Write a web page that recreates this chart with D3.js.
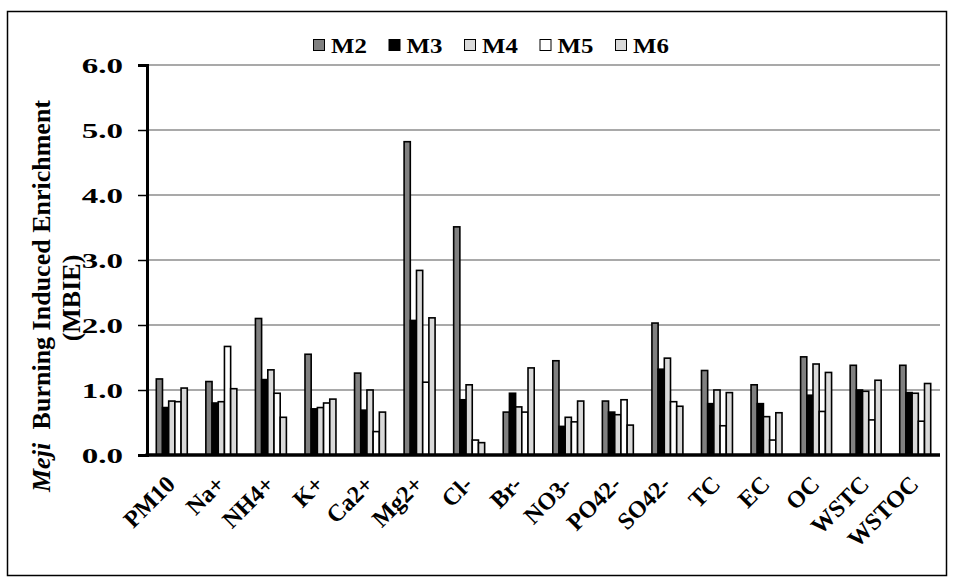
<!DOCTYPE html>
<html>
<head>
<meta charset="utf-8">
<script src="https://cdn.jsdelivr.net/npm/d3@7"></script>
<style>
  html, body { margin: 0; padding: 0; background: #fff; }
  svg text { font-family: "Liberation Serif", "Times New Roman", serif; font-weight: bold; fill: #000; }
</style>
</head>
<body>
<svg id="chart" width="956" height="582"></svg>
<script>
// Species on the category axis
const categories = ["PM10", "Na+", "NH4+", "K+", "Ca2+", "Mg2+", "Cl-", "Br-", "NO3-", "PO42-", "SO42-", "TC", "EC", "OC", "WSTC", "WSTOC"];

// Enrichment per sample
const M2 = [1.17, 1.13, 2.10, 1.55, 1.26, 4.82, 3.51, 0.66, 1.45, 0.83, 2.03, 1.30, 1.08, 1.51, 1.38, 1.38];
const M3 = [0.73, 0.80, 1.16, 0.71, 0.69, 2.07, 0.85, 0.95, 0.44, 0.66, 1.32, 0.79, 0.79, 0.92, 1.00, 0.96];
const M4 = [0.83, 0.82, 1.31, 0.73, 1.00, 2.84, 1.08, 0.74, 0.58, 0.62, 1.49, 1.00, 0.59, 1.40, 0.98, 0.95];
const M5 = [0.82, 1.67, 0.95, 0.80, 0.36, 1.12, 0.23, 0.66, 0.51, 0.85, 0.82, 0.45, 0.23, 0.67, 0.54, 0.52];
const M6 = [1.03, 1.02, 0.58, 0.86, 0.66, 2.11, 0.19, 1.34, 0.83, 0.46, 0.75, 0.96, 0.65, 1.27, 1.15, 1.10];

const seriesNames = ["M2", "M3", "M4", "M5", "M6"];
const yTicks = [0, 1, 2, 3, 4, 5, 6];

const seriesValues = [M2, M3, M4, M5, M6];
const fills = { M2: "#808080", M3: "#000000", M4: "#d9d9d9", M5: "#ffffff", M6: "#d9d9d9" };

const svg = d3.select("#chart");

// outer frame
svg.append("rect")
  .attr("x", 7.5).attr("y", 11.5)
  .attr("width", 939).attr("height", 564)
  .attr("fill", "none").attr("stroke", "#000").attr("stroke-width", 1.5);

const plot = { left: 147, right: 940, top: 65, bottom: 455 };

const y = d3.scaleLinear().domain([0, 6]).range([plot.bottom, plot.top]);
const x = d3.scaleBand().domain(categories).range([plot.left, plot.right])
  .paddingInner(0.375).paddingOuter(0.1875);
const xs = d3.scaleBand().domain(seriesNames).range([0, x.bandwidth()]);

// gridlines
svg.append("g")
  .selectAll("line")
  .data(yTicks.filter(d => d > 0))
  .join("line")
  .attr("x1", plot.left).attr("x2", plot.right)
  .attr("y1", d => y(d)).attr("y2", d => y(d))
  .attr("stroke", "#8c8c8c").attr("stroke-width", 1.5);

// bars
const table = categories.map((c, i) => ({
  cat: c,
  vals: seriesNames.map((s, j) => ({ s, v: seriesValues[j][i] }))
}));

svg.append("g")
  .selectAll("g")
  .data(table)
  .join("g")
  .attr("transform", d => `translate(${x(d.cat)},0)`)
  .selectAll("rect")
  .data(d => d.vals)
  .join("rect")
  .attr("x", d => xs(d.s))
  .attr("width", xs.bandwidth())
  .attr("y", d => y(d.v))
  .attr("height", d => y(0) - y(d.v))
  .attr("fill", d => fills[d.s])
  .attr("stroke", "#000").attr("stroke-width", 1.6);

// y axis (ticks from the axis generator, wide labels drawn separately)
const yAxis = svg.append("g")
  .attr("transform", `translate(${plot.left},0)`)
  .call(d3.axisLeft(y).tickValues(yTicks).tickSize(9).tickFormat(""));
yAxis.select(".domain").attr("stroke-width", 3);
yAxis.selectAll(".tick line").attr("stroke-width", 1.5);

svg.append("g")
  .selectAll("text")
  .data(yTicks)
  .join("text")
  .attr("transform", d => `translate(123,${y(d)}) scale(1.5,1)`)
  .attr("text-anchor", "end")
  .attr("dy", "0.36em")
  .attr("font-size", 22)
  .text(d3.format(".1f"));

// x axis line
svg.append("line")
  .attr("x1", plot.left - 1.5).attr("x2", plot.right)
  .attr("y1", plot.bottom).attr("y2", plot.bottom)
  .attr("stroke", "#000").attr("stroke-width", 3.5);

// category labels, rotated 45 degrees
const catLabel = svg.append("g")
  .selectAll("g")
  .data(categories)
  .join("g")
  .attr("transform", d => `translate(${x(d) + x.bandwidth() / 2 - 2},${plot.bottom + 24})`);
catLabel.append("text")
  .attr("transform", "rotate(-45)")
  .attr("text-anchor", "end")
  .attr("dy", "0.4em")
  .attr("font-size", 24)
  .text(d => d);

// y axis title, centred on the chart height
const titleY = 296;
const yTitle = svg.append("text")
  .attr("transform", `translate(50,${titleY}) rotate(-90)`)
  .attr("text-anchor", "middle")
  .attr("font-size", 26);
yTitle.append("tspan").style("font-style", "italic").text("Meji");
yTitle.append("tspan").attr("dx", 7).text(" Burning Induced Enrichment");
svg.append("text")
  .attr("transform", `translate(80,${titleY + 2}) rotate(-90)`)
  .attr("text-anchor", "middle")
  .attr("font-size", 26)
  .text("(MBIE)");

// legend
const legend = svg.append("g").attr("transform", "translate(313,45)");
const item = legend.selectAll("g")
  .data(seriesNames)
  .join("g")
  .attr("transform", (d, i) => `translate(${i * 75.5},0)`);
item.append("rect")
  .attr("x", 0.5).attr("y", -5.5)
  .attr("width", 11).attr("height", 11)
  .attr("fill", d => fills[d])
  .attr("stroke", "#000").attr("stroke-width", 1);
item.append("text")
  .attr("transform", "translate(18,0) scale(1.13,1)")
  .attr("dy", "0.35em")
  .attr("font-size", 22)
  .text(d => d);
</script>
</body>
</html>
